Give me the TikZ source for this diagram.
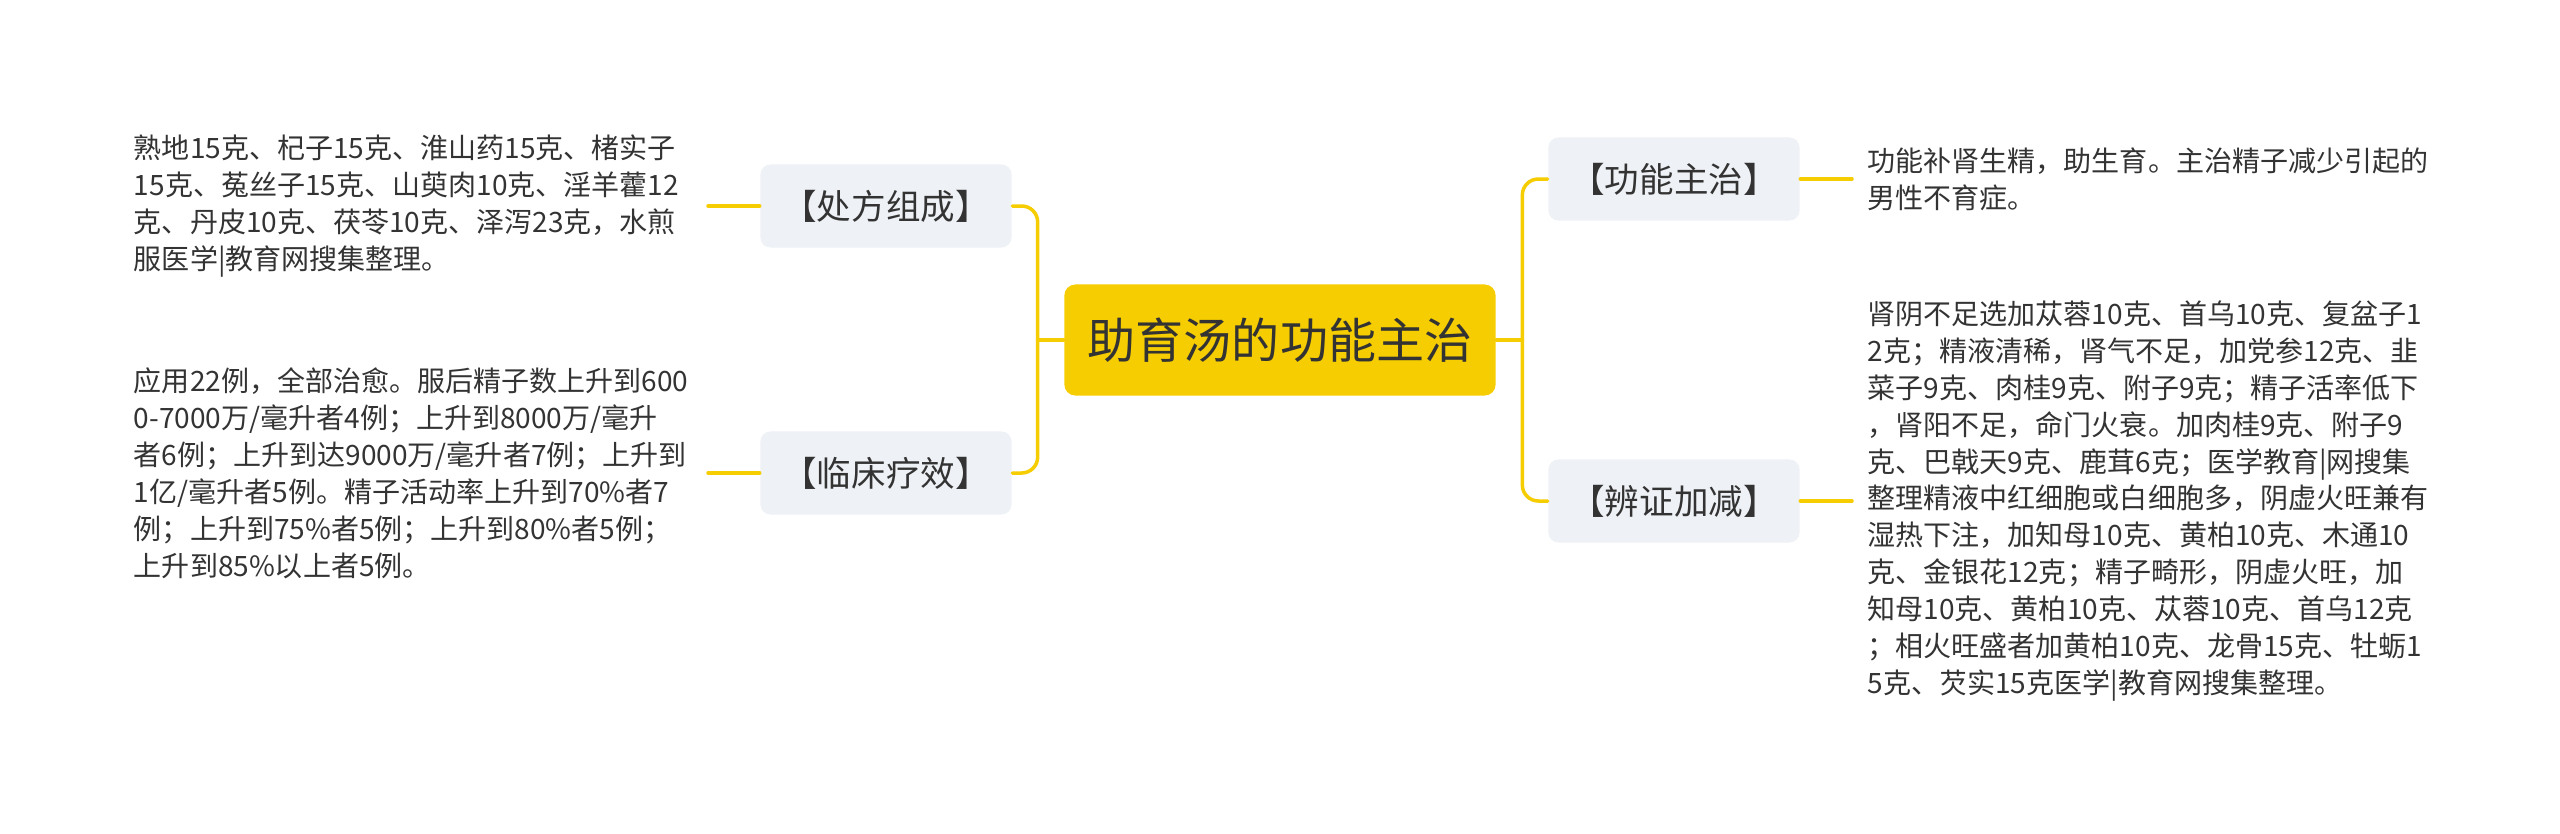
\documentclass[tikz,border=0pt]{standalone}
\usepackage{fontspec}
\usepackage{tikz}
\usetikzlibrary{calc}
\newfontfamily\cjk{Noto Sans CJK SC}
\definecolor{accent}{RGB}{245,205,0}
\definecolor{softgray}{RGB}{238,241,245}
\definecolor{ink}{RGB}{51,51,51}

\begin{document}
\begin{tikzpicture}[x=0.01cm, y=-0.01cm, line join=round, line cap=round,
    root/.style={fill=accent, rounded corners=0.11cm, minimum width=4.31cm, minimum height=1.11cm,
      inner sep=0pt, text=ink, font=\cjk\fontsize{13.66}{16}\selectfont},
    branch/.style={fill=softgray, rounded corners=0.1cm, minimum width=2.51cm, minimum height=0.83cm,
      inner sep=0pt, text=ink, font=\cjk\fontsize{9.82}{12}\selectfont},
    leaf/.style={inner xsep=0.15cm, inner ysep=0pt, text width=5.58cm, align=left, text=ink,
      font=\cjk\fontsize{7.97}{10.5}\selectfont},
    link/.style={draw=accent, line width=0.035cm, rounded corners=0.16cm}]
    % page frame, same size as the reference
    \path[fill=white, use as bounding box] (0,0) rectangle (2560,833);

    % centre and the four branches
    \node[root] (main) at (1280,340) {助育汤的功能主治};
    \node[branch] (b1) at (886,206) {【处方组成】};
    \node[branch] (b2) at (886,473) {【临床疗效】};
    \node[branch] (b3) at (1674,179) {【功能主治】};
    \node[branch] (b4) at (1674,501) {【辨证加减】};

    % leaf texts, line breaks as printed
    \node[leaf, anchor=east] (t1) at (708,206) {熟地15克、杞子15克、淮山药15克、楮实子\\
      15克、菟丝子15克、山萸肉10克、淫羊藿12\\
      克、丹皮10克、茯苓10克、泽泻23克，水煎\\
      服医学|教育网搜集整理。};
    \node[leaf, anchor=east] (t2) at (708,473) {应用22例，全部治愈。服后精子数上升到600\\
      0-7000万/毫升者4例；上升到8000万/毫升\\
      者6例；上升到达9000万/毫升者7例；上升到\\
      1亿/毫升者5例。精子活动率上升到70\%者7\\
      例；上升到75\%者5例；上升到80\%者5例；\\
      上升到85\%以上者5例。};
    \node[leaf, anchor=west] (t3) at (1852,179) {功能补肾生精，助生育。主治精子减少引起的\\
      男性不育症。};
    \node[leaf, anchor=west] (t4) at (1852,501) {肾阴不足选加苁蓉10克、首乌10克、复盆子1\\
      2克；精液清稀，肾气不足，加党参12克、韭\\
      菜子9克、肉桂9克、附子9克；精子活率低下\\
      ，肾阳不足，命门火衰。加肉桂9克、附子9\\
      克、巴戟天9克、鹿茸6克；医学教育|网搜集\\
      整理精液中红细胞或白细胞多，阴虚火旺兼有\\
      湿热下注，加知母10克、黄柏10克、木通10\\
      克、金银花12克；精子畸形，阴虚火旺，加\\
      知母10克、黄柏10克、苁蓉10克、首乌12克\\
      ；相火旺盛者加黄柏10克、龙骨15克、牡蛎1\\
      5克、芡实15克医学|教育网搜集整理。};

    % junctions beside the centre
    \coordinate (lj) at ($(main.west)+(-26,0)$);
    \coordinate (rj) at ($(main.east)+(26,0)$);

    % connectors
    \draw[link] (main.west) -- (lj);
    \draw[link] (b1.east) -| (lj) |- (b2.east);
    \draw[link] (main.east) -- (rj);
    \draw[link] (b3.west) -| (rj) |- (b4.west);
    \draw[link] (t1.east) -- (b1.west);
    \draw[link] (t2.east) -- (b2.west);
    \draw[link] (b3.east) -- (t3.west);
    \draw[link] (b4.east) -- (t4.west);
\end{tikzpicture}
\end{document}
